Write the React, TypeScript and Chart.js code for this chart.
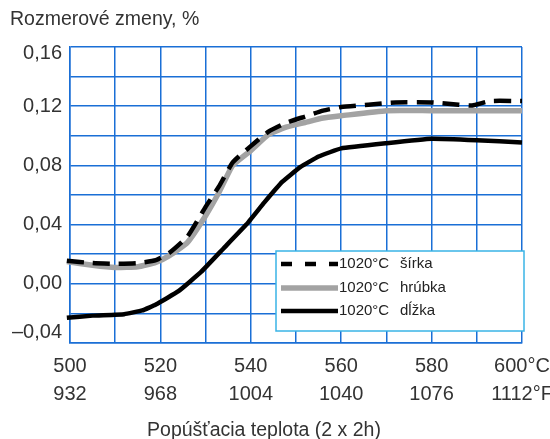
import React, { useEffect, useRef } from 'react';
import { Chart, registerables } from 'chart.js';

Chart.register(...registerables);

// Series: šírka (width) – dashed black
const widthTemps = [499.3, 505, 510, 515, 519, 522, 526, 530, 533, 536, 540, 544, 548, 552, 556, 560, 566, 572, 580, 586, 589, 593, 600];
const widthValues = [0.0155, 0.014, 0.0135, 0.014, 0.016, 0.021, 0.032, 0.052, 0.066, 0.082, 0.093, 0.103, 0.109, 0.113, 0.117, 0.1195, 0.121, 0.1225, 0.1225, 0.121, 0.1205, 0.1235, 0.1235];

// Series: hrúbka (thickness) – gray
const thickTemps = [499.3, 505, 510, 515, 519, 522, 526, 530, 533, 536, 540, 544, 548, 552, 556, 560, 570, 580, 590, 600];
const thickValues = [0.015, 0.0125, 0.011, 0.0115, 0.0145, 0.019, 0.028, 0.046, 0.062, 0.08, 0.09, 0.101, 0.106, 0.109, 0.112, 0.1135, 0.117, 0.117, 0.117, 0.117];

// Series: dĺžka (length) – solid black
const lengthTemps = [499.3, 505, 512, 516, 519, 524, 529, 534, 539, 543, 547, 551, 555, 560, 570, 580, 590, 600];
const lengthValues = [-0.023, -0.0215, -0.0205, -0.018, -0.014, -0.005, 0.008, 0.024, 0.04, 0.055, 0.069, 0.079, 0.086, 0.0915, 0.095, 0.098, 0.097, 0.0955];

const seriesLabels = ['1020°C  šírka', '1020°C  hrúbka', '1020°C  dĺžka'];

// Tick labels
const celsiusTicks = ['500', '520', '540', '560', '580', '600°C'];
const fahrenheitTicks = ['932', '968', '1004', '1040', '1076', '1112°F'];
const yTickValues = [0.16, 0.12, 0.08, 0.04, 0.0, -0.04];
const yTickLabels = ['0,16', '0,12', '0,08', '0,04', '0,00', '–0,04'];

const yTitle = 'Rozmerové zmeny, %';
const xTitle = 'Popúšťacia teplota (2 x 2h)';

const FONT = '"Liberation Sans", Arial, Helvetica, sans-serif';
const TEXT = '#333333';
const GRID = '#1a6fd6';

const toPoints = (xs: number[], ys: number[]) => xs.map((x, i) => ({ x, y: ys[i] }));

const overlayPlugin = {
  id: 'overlay',
  afterDraw(chart: any) {
    const ctx = chart.ctx;
    const yScale = chart.scales.y;
    ctx.save();
    // y tick labels
    ctx.fillStyle = TEXT;
    ctx.font = `20px ${FONT}`;
    ctx.textAlign = 'right';
    ctx.textBaseline = 'middle';
    yTickValues.forEach((v, i) => {
      let py = yScale.getPixelForValue(v);
      if (i === 0) py += 6;
      if (i === yTickValues.length - 1) py -= 11;
      ctx.fillText(yTickLabels[i], 62, py);
    });
    // titles
    ctx.textAlign = 'left';
    ctx.font = `19.5px ${FONT}`;
    ctx.fillText(yTitle, 10, 20);
    ctx.textAlign = 'center';
    ctx.fillText(xTitle, 264, 431);

    // legend
    const bx = 276, by = 251, bw = 248, bh = 80;
    ctx.fillStyle = '#ffffff';
    ctx.fillRect(bx, by, bw, bh);
    ctx.strokeStyle = '#3ab4e6';
    ctx.lineWidth = 1.5;
    ctx.strokeRect(bx, by, bw, bh);
    const rows = [264, 288, 311];
    chart.data.datasets.forEach((ds: any, i: number) => {
      const ry = rows[i];
      ctx.beginPath();
      ctx.strokeStyle = ds.borderColor;
      ctx.lineWidth = ds.borderWidth;
      ctx.setLineDash(ds.borderDash && ds.borderDash.length ? [11, 13] : []);
      ctx.moveTo(281, ry);
      ctx.lineTo(338, ry);
      ctx.stroke();
      ctx.setLineDash([]);
      const parts = ds.label.split(/\s+/);
      ctx.fillStyle = '#222222';
      ctx.font = `15px ${FONT}`;
      ctx.textAlign = 'left';
      ctx.textBaseline = 'middle';
      ctx.fillText(parts[0], 339, ry);
      ctx.fillText(parts.slice(1).join(' '), 400, ry);
    });
    ctx.restore();
  },
};

export default function App() {
  const canvasRef = useRef<HTMLCanvasElement | null>(null);

  useEffect(() => {
    if (!canvasRef.current) return;
    const chart = new Chart(canvasRef.current, {
      type: 'line',
      data: {
        datasets: [
          {
            label: seriesLabels[0],
            data: toPoints(widthTemps, widthValues),
            borderColor: '#000000',
            borderWidth: 4.5,
            borderDash: [17, 9],
            pointRadius: 0,
            tension: 0.15,
            clip: false as any,
            order: 0,
          },
          {
            label: seriesLabels[1],
            data: toPoints(thickTemps, thickValues),
            borderColor: '#a3a3a3',
            borderWidth: 5.5,
            pointRadius: 0,
            tension: 0.15,
            clip: false as any,
            order: 2,
          },
          {
            label: seriesLabels[2],
            data: toPoints(lengthTemps, lengthValues),
            borderColor: '#000000',
            borderWidth: 4.5,
            pointRadius: 0,
            tension: 0.1,
            clip: false as any,
            order: 1,
          },
        ],
      },
      options: {
        animation: false,
        responsive: false,
        layout: { padding: { left: 0, top: 47, right: 28, bottom: 0 } },
        plugins: { legend: { display: false }, tooltip: { enabled: false }, title: { display: false } },
        scales: {
          x: {
            type: 'linear',
            min: 500,
            max: 600,
            grid: { color: GRID, lineWidth: 1.5, drawTicks: false },
            border: { display: true, color: GRID, width: 1.5 },
            ticks: {
              stepSize: 10,
              autoSkip: false,
              maxRotation: 0,
              padding: 9,
              color: TEXT,
              font: { family: FONT, size: 20, lineHeight: 1.4 },
              callback: (value: any) => {
                const v = Number(value);
                const k = Math.round((v - 500) / 20);
                if (Math.abs(v - 500 - k * 20) < 1e-6 && k >= 0 && k < celsiusTicks.length) {
                  return [celsiusTicks[k], fahrenheitTicks[k]];
                }
                return '';
              },
            },
            afterFit: (scale: any) => {
              scale.height = 96;
              scale.paddingLeft = 0;
              scale.paddingRight = 0;
            },
          },
          y: {
            min: -0.04,
            max: 0.16,
            grid: { color: GRID, lineWidth: 1.5, drawTicks: false },
            border: { display: true, color: GRID, width: 1.5 },
            ticks: { stepSize: 0.02, display: false },
            afterFit: (scale: any) => {
              scale.width = 70;
              scale.paddingTop = 0;
              scale.paddingBottom = 0;
            },
          },
        },
      },
      plugins: [overlayPlugin],
    });
    return () => chart.destroy();
  }, []);

  return (
    <div style={{ position: 'absolute', left: 0, top: 0, width: 550, height: 439, background: '#ffffff' }}>
      <canvas ref={canvasRef} width={550} height={439} style={{ display: 'block' }} />
    </div>
  );
}
